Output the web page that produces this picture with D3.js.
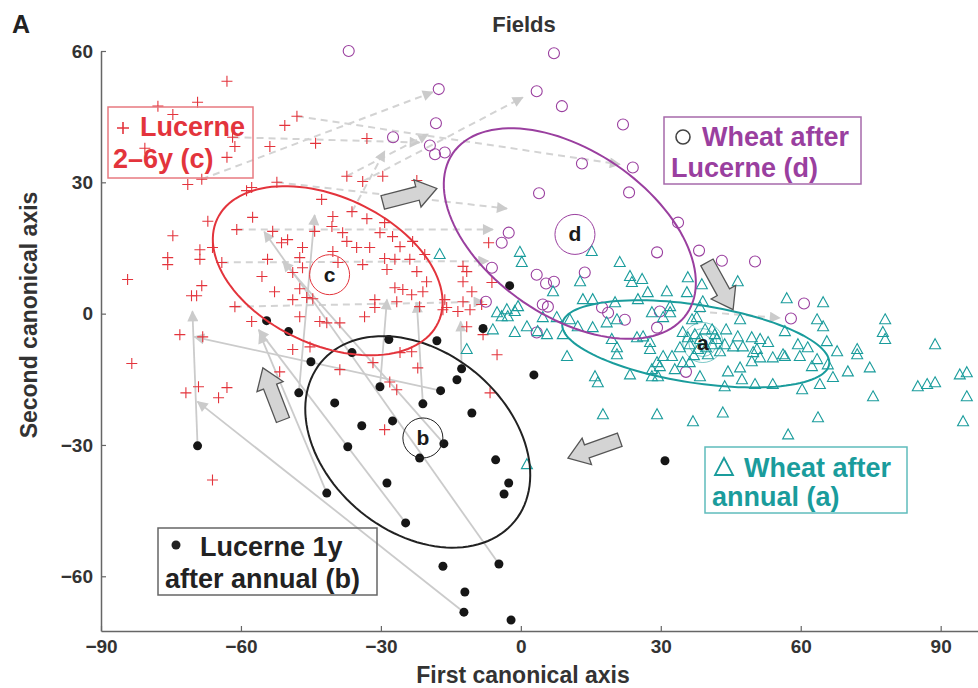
<!DOCTYPE html>
<html>
<head>
<meta charset="utf-8">
<script src="https://cdn.jsdelivr.net/npm/d3@7"></script>
<style>
  body { margin: 0; background: #fff; }
  svg { font-family: "Liberation Sans", Arial, sans-serif; }
</style>
</head>
<body>
<svg width="978" height="688"></svg>
<script>
// tick labels
var xTicks = [-90, -60, -30, 0, 30, 60, 90];
var yTicks = [-60, -30, 0, 30, 60];

// Lucerne 2-6y (c) : red plus
var lucerne26 = [
  [-63.0,53.1],[-77.8,47.4],[-69.3,48.3],[-74.6,45.5],[-48.0,45.1],[-50.6,43.0],[-61.8,40.3],[-61.3,38.2],
  [-80.6,37.8],[-63.0,35.7],[-53.8,38.2],[-44.0,38.9],[-33.0,40.0],[-71.4,29.5],[-68.4,30.7],[-37.3,31.4],
  [-33.9,30.2],[-29.6,31.4],[-22.3,30.4],[-58.8,28.1],[-57.7,28.8],[-52.3,30.0],[-42.7,26.1],[-36.2,23.3],
  [-40.3,22.2],[-57.5,22.0],[-67.1,21.1],[-60.9,19.2],[-53.2,18.8],[-44.2,18.8],[-40.5,19.9],[-38.2,18.5],
  [-33.0,21.7],[-29.2,20.8],[-30.2,18.5],[-27.5,17.6],[-51.3,16.2],[-50.0,16.9],[-46.8,15.1],[-37.3,16.5],
  [-35.2,15.1],[-32.4,15.1],[-25.9,15.3],[-23.2,16.5],[-74.6,17.8],[-68.8,14.6],[-66.1,15.1],[-75.7,12.8],
  [-75.7,11.2],[-68.8,12.4],[-64.1,11.7],[-54.3,12.4],[-47.4,12.8],[-40.3,14.2],[-29.2,12.6],[-27.0,12.4],
  [-23.8,12.4],[-20.6,13.5],[-33.9,11.2],[-28.7,10.1],[-22.3,9.6],[-55.5,8.5],[-48.9,9.4],[-46.8,10.5],
  [-39.2,11.7],[-84.3,7.8],[-68.4,6.4],[-70.6,4.1],[-69.5,4.1],[-52.8,5.0],[-47.4,5.7],[-27.0,5.9],
  [-25.3,5.5],[-23.4,4.3],[-20.2,7.3],[-21.0,5.0],[-48.9,3.2],[-45.9,3.7],[-44.6,3.4],[-61.3,1.6],
  [-31.3,3.2],[-31.3,1.4],[-33.5,-0.7],[-43.1,-1.8],[-41.6,-2.1],[-38.8,-2.1],[-47.4,-0.7],[-73.1,-4.8],
  [-68.2,-5.3],[-26.6,2.7],[-15.9,1.4],[-23.4,-8.7],[-48.9,-8.2],[-45.2,-7.6],[-83.4,-11.4],[-71.8,-18.1],
  [-69.1,-16.7],[-64.8,-19.2],[-63.0,-16.9],[-51.7,-13.3],[-57.7,-1.8],[-66.1,-38.0],[-6.9,16.2],[-12.4,10.8],
  [-11.6,9.6],[-12.4,7.3],[-10.5,5.0],[-6.2,7.1],[-16.3,3.2],[-12.4,2.7],[-10.9,0.9],[-13.5,0.5],
  [-8.4,2.1],[-16.7,0.9],[-11.6,-3.0],[-8.1,-4.8],[-5.1,-9.4],[-6.6,-18.1],[-21.7,1.6],[-25.9,-8.9],
  [-31.7,-11.2],[-38.8,-12.8],[-22.1,-12.4],[-28.1,-15.6],[-26.6,-17.4],[-29.2,-26.5]
];

// Wheat after Lucerne (d) : purple circles
var wheatAfterLucerne = [
  [-36.9,60.0],[7.1,59.5],[-17.6,51.3],[3.4,50.8],[8.8,47.4],[-18.2,43.5],[21.9,43.2],[-27.4,40.3],
  [-19.5,38.4],[-18.4,36.4],[-16.3,36.8],[13.1,34.3],[24.0,33.4],[3.9,27.5],[23.2,27.7],[33.7,20.8],
  [-2.6,18.5],[-4.1,16.2],[29.2,14.0],[38.2,14.4],[43.1,12.1],[50.2,11.9],[-6.2,10.5],[3.4,8.9],
  [5.4,6.9],[7.1,7.3],[13.7,9.4],[-7.5,2.7],[4.7,2.1],[5.8,1.6],[17.4,1.4],[18.7,0.2],
  [22.3,-1.4],[3.4,-4.3],[29.8,0.5],[29.2,-3.2],[60.7,2.3],[57.9,-1.1],[35.4,-13.3]
];

// Wheat after annual (a) : teal triangles
var wheatAfterAnnual = [
  [-17.4,13.5],[-0.2,14.0],[0.2,11.7],[15.2,14.2],[21.2,11.7],[35.8,8.2],[23.4,8.5],[23.8,7.1],
  [26.0,7.8],[12.7,7.3],[6.9,5.0],[27.2,4.8],[31.3,5.0],[38.8,6.6],[39.0,2.7],[38.4,1.4],
  [13.3,3.2],[15.4,3.2],[20.2,2.5],[25.1,3.2],[32.0,1.6],[37.7,-0.9],[32.0,0.2],[-5.1,0.2],
  [-4.1,-0.7],[-2.8,-0.7],[-1.3,0.5],[-0.6,1.6],[-3.0,0.9],[-6.0,-3.7],[-1.3,-4.3],[1.3,-3.0],
  [3.6,-4.1],[5.6,-4.8],[9.0,-4.8],[10.5,-1.4],[7.7,-0.9],[4.7,-0.9],[12.2,-3.0],[15.4,-3.2],
  [18.4,-2.1],[20.6,-1.4],[19.5,-5.9],[20.6,-7.8],[20.6,-9.4],[24.9,-5.5],[26.2,-5.3],[27.7,-6.6],
  [27.7,-8.2],[30.5,-9.8],[32.4,-9.8],[29.8,-12.1],[28.1,-12.8],[29.4,-14.4],[33.0,-12.8],[36.2,-11.2],
  [9.9,-9.8],[15.9,-14.4],[16.5,-15.8],[23.4,-14.0],[-11.6,-8.2],[17.6,-23.1],[29.2,-23.1],[36.9,-24.7],
  [46.5,7.3],[57.0,3.4],[64.8,2.5],[63.5,-1.4],[64.8,-3.0],[78.1,-1.4],[77.6,-4.3],[78.1,-5.9],
  [88.8,-7.1],[47.0,-1.4],[56.6,-4.1],[44.0,-3.7],[46.5,-5.3],[49.5,-5.5],[51.3,-5.9],[53.0,-6.6],
  [45.5,-7.6],[47.6,-7.6],[50.6,-8.2],[59.4,-7.1],[61.5,-7.8],[65.6,-6.4],[67.8,-8.7],[72.1,-8.2],
  [72.1,-9.4],[56.2,-9.4],[59.8,-9.8],[49.5,-11.0],[51.3,-10.1],[54.0,-10.1],[63.5,-10.5],[65.8,-11.7],
  [70.1,-13.3],[74.8,-12.4],[62.4,-12.1],[44.4,-13.3],[47.0,-12.4],[47.4,-15.1],[50.2,-16.2],[54.0,-16.2],
  [43.7,-16.7],[60.3,-17.4],[64.1,-16.2],[66.9,-14.6],[75.5,-19.0],[85.1,-16.7],[87.1,-16.2],[88.8,-15.8],
  [94.1,-14.0],[95.6,-13.5],[95.6,-19.0],[43.3,-22.7],[63.7,-23.8],[57.3,-27.7],[94.8,-24.7],[35.6,4.8],
  [28.1,0.2],[30.5,-0.9],[36.7,-1.4],[34.7,-4.3],[42.0,-5.9],[49.8,-8.9],[56.6,-9.8],[38.4,-14.4],
  [34.7,-11.2],[29.2,-11.2],[28.1,-14.4],[1.3,-34.5],[37.3,-4.8],[39.5,-3.7],[41.0,-7.1],[38.0,-8.2],
  [40.1,-9.4],[36.2,-7.1],[41.6,-4.8],[38.4,-5.9],[42.7,-8.7],[35.8,-5.5],[39.7,-7.8],[37.1,-9.6],
  [41.0,-3.7],[34.1,-7.8],[43.7,-7.1]
];

// Lucerne 1y after annual (b) : black dots
var lucerne1y = [
  [-54.5,-1.6],[-49.8,-4.1],[-45.0,-11.0],[-47.6,-18.1],[-69.3,-30.2],[-36.2,-8.9],[-28.3,-5.9],[-18.0,-6.2],
  [-2.4,6.4],[-8.1,-3.4],[-12.7,-12.6],[-13.7,-15.1],[-17.2,-17.6],[-30.2,-16.7],[-21.0,-20.6],[-10.5,-22.7],
  [-39.9,-20.4],[-34.1,-25.6],[-27.5,-24.5],[-37.1,-30.4],[-16.5,-29.7],[-21.7,-33.0],[-5.4,-33.4],[2.8,-14.0],
  [30.9,-33.6],[-41.6,-41.0],[-28.7,-38.7],[-24.7,-47.8],[-2.6,-38.7],[-3.6,-41.2],[-16.7,-57.7],[-4.7,-57.2],
  [-12.0,-63.6],[-12.2,-68.2],[-2.1,-70.0]
];

// group ellipses: centre, major semi-axis vector, minor semi-axis vector (data units)
var ellipseCentres = { a: [37.5,-6.9], b: [-22.1,-29.3], c: [-41.4,9.8], d: [10.5,18.3] };
var ellipseMajor   = { a: [28.6,-4.67], b: [20.8,-18.1], c: [23.7,-11.8], d: [25.1,-18.3] };
var ellipseMinor   = { a: [-1.26,-8.8], b: [-12.2,-16.0], c: [-6.7,-15.3], d: [-10.0,-15.6] };
var groupMeans     = { a: [39.0,-6.6], b: [-21.0,-28.4], c: [-41.0,8.9], d: [11.6,18.1] };

// field trajectories: Lucerne 1y -> Lucerne 2-6y (solid), Lucerne -> wheat (dashed)
var solidArrows = [
  [[-69.3,-30.2],[-70.4,0.5]], [[-12.2,-68.2],[-69.3,-20.1]], [[-17.2,-17.6],[-70.0,-5.3]],
  [[-24.7,-47.8],[-56.2,-3.7]], [[-4.7,-57.2],[-55.0,18.7]], [[-16.5,-29.7],[-51.0,11.9]],
  [[-47.6,-18.1],[-44.2,22.5]], [[-30.2,-16.7],[-28.7,3.2]], [[-21.0,-20.6],[-22.3,2.5]],
  [[-12.7,-12.6],[-12.9,-1.8]], [[-41.6,-41.0],[-56.0,-4.5]]
];
var dashedArrows = [
  [[-68.4,30.7],[-18.9,50.6]], [[-33.9,30.2],[0.4,49.4]], [[-61.8,40.3],[-21.7,39.1]],
  [[-37.3,31.4],[-19.9,41.0]], [[-36.2,23.3],[-29.2,37.1]], [[-48.0,45.1],[21.2,34.1]],
  [[-60.9,19.2],[-6.0,19.2]], [[-64.1,11.7],[-7.0,12.0]], [[-61.3,1.6],[-8.0,2.7]],
  [[-52.3,30.0],[-3.0,24.0]], [[38.0,0.5],[55.5,-1.0]]
];
// big transition arrows: tail, tip
var blockArrows = [
  [[-51.0,-24.3],[-55.3,-12.4]],
  [[-29.6,25.4],[-18.0,28.6]],
  [[39.9,11.7],[45.5,0.9]],
  [[21.2,-28.8],[10.1,-33.0]]
];

var colC = "#e3343c", colD = "#9a3f9f", colA = "#1a9c9c", colB = "#161616";

var svg = d3.select("svg");

var x = d3.scaleLinear().domain([-90, 98]).range([101, 978]);
var y = d3.scaleLinear().domain([-72.5, 60]).range([631, 51]);

// arrowhead marker
var defs = svg.append("defs");
defs.append("marker")
    .attr("id", "head")
    .attr("markerUnits", "userSpaceOnUse")
    .attr("viewBox", "0 0 10 10")
    .attr("refX", 9).attr("refY", 5)
    .attr("markerWidth", 13).attr("markerHeight", 11)
    .attr("orient", "auto")
    .append("path")
    .attr("d", "M0,0L10,5L0,10Z")
    .attr("fill", "#cbcbcb");
defs.append("clipPath").attr("id", "clip")
    .append("rect").attr("x", 101).attr("y", 40).attr("width", 877).attr("height", 591);

// axes
var xAxis = d3.axisBottom(x).tickValues(xTicks).tickSize(-5).tickSizeOuter(0).tickPadding(9)
    .tickFormat(d => d3.format("")(d).replace("-", "\u2212"));
var yAxis = d3.axisLeft(y).tickValues(yTicks).tickSize(-5).tickSizeOuter(0).tickPadding(8)
    .tickFormat(d => d3.format("")(d).replace("-", "\u2212"));

var gx = svg.append("g").attr("transform", "translate(0,631)").call(xAxis);
var gy = svg.append("g").attr("transform", "translate(101,0)").call(yAxis);
[gx, gy].forEach(function(g) {
  g.select(".domain").attr("stroke", "#666").attr("stroke-width", 1.5);
  g.selectAll(".tick line").attr("stroke", "#666").attr("stroke-width", 1.2);
  g.selectAll(".tick text").attr("fill", "#333").attr("font-size", 19).attr("font-weight", "bold")
    .attr("font-family", "Liberation Sans, Arial, sans-serif");
});

var plot = svg.append("g").attr("clip-path", "url(#clip)");

// trajectories
plot.append("g").selectAll("line").data(dashedArrows).join("line")
    .attr("x1", d => x(d[0][0])).attr("y1", d => y(d[0][1]))
    .attr("x2", d => x(d[1][0])).attr("y2", d => y(d[1][1]))
    .attr("stroke", "#d3d3d3").attr("stroke-width", 2).attr("stroke-dasharray", "7,5")
    .attr("marker-end", "url(#head)");
plot.append("g").selectAll("line").data(solidArrows).join("line")
    .attr("x1", d => x(d[0][0])).attr("y1", d => y(d[0][1]))
    .attr("x2", d => x(d[1][0])).attr("y2", d => y(d[1][1]))
    .attr("stroke", "#cbcbcb").attr("stroke-width", 1.8)
    .attr("marker-end", "url(#head)");

// points
plot.append("g").selectAll("path").data(lucerne26).join("path")
    .attr("transform", d => "translate(" + x(d[0]) + "," + y(d[1]) + ")")
    .attr("d", "M-5.5,0H5.5M0,-5.5V5.5")
    .attr("stroke", colC).attr("stroke-width", 1.1).attr("fill", "none");
plot.append("g").selectAll("circle").data(wheatAfterLucerne).join("circle")
    .attr("cx", d => x(d[0])).attr("cy", d => y(d[1])).attr("r", 5.5)
    .attr("stroke", colD).attr("stroke-width", 1.1).attr("fill", "none");
plot.append("g").selectAll("path").data(wheatAfterAnnual).join("path")
    .attr("transform", d => "translate(" + x(d[0]) + "," + y(d[1]) + ")")
    .attr("d", "M0,-6L5.5,4L-5.5,4Z")
    .attr("stroke", colA).attr("stroke-width", 1.1).attr("fill", "none");
plot.append("g").selectAll("circle").data(lucerne1y).join("circle")
    .attr("cx", d => x(d[0])).attr("cy", d => y(d[1])).attr("r", 4.5)
    .attr("fill", colB);

// ellipses
var ellCols = { a: colA, b: "#222", c: colC, d: colD };
var ts = d3.range(0, 2 * Math.PI + 0.01, Math.PI / 60);
var eLine = d3.line().x(d => x(d[0])).y(d => y(d[1]));
Object.keys(ellipseCentres).forEach(function(k) {
  var c = ellipseCentres[k], u = ellipseMajor[k], v = ellipseMinor[k];
  var pts = ts.map(t => [c[0] + Math.cos(t) * u[0] + Math.sin(t) * v[0],
                         c[1] + Math.cos(t) * u[1] + Math.sin(t) * v[1]]);
  plot.append("path").datum(pts).attr("d", eLine)
      .attr("fill", "none").attr("stroke", ellCols[k]).attr("stroke-width", 2);
});

// group means
Object.keys(groupMeans).forEach(function(k) {
  var m = groupMeans[k];
  if (k === "a") {
    [8, 14, 20].forEach(function(r) {
      plot.append("circle").attr("cx", x(m[0])).attr("cy", y(m[1])).attr("r", r)
          .attr("fill", "none").attr("stroke", colA).attr("stroke-width", 0.8).attr("opacity", 0.7);
    });
  } else {
    plot.append("circle").attr("cx", x(m[0])).attr("cy", y(m[1])).attr("r", 20)
        .attr("fill", "none").attr("stroke", ellCols[k]).attr("stroke-width", 1);
  }
  plot.append("text").attr("x", x(m[0])).attr("y", y(m[1]) + 7)
      .attr("text-anchor", "middle").attr("font-size", 21).attr("font-weight", "bold")
      .attr("fill", "#1a1a1a").text(k);
});

// block arrows
blockArrows.forEach(function(a) {
  var x0 = x(a[0][0]), y0 = y(a[0][1]), x1 = x(a[1][0]), y1 = y(a[1][1]);
  var L = Math.hypot(x1 - x0, y1 - y0), ux = (x1 - x0) / L, uy = (y1 - y0) / L;
  var nx = -uy, ny = ux, hl = 20, sw = 7, hw = 14;
  var bx = x0 + ux * (L - hl), by = y0 + uy * (L - hl);
  var p = [[x0 + nx * sw, y0 + ny * sw], [bx + nx * sw, by + ny * sw], [bx + nx * hw, by + ny * hw],
           [x1, y1], [bx - nx * hw, by - ny * hw], [bx - nx * sw, by - ny * sw], [x0 - nx * sw, y0 - ny * sw]];
  svg.append("path").attr("d", "M" + p.join("L") + "Z")
     .attr("fill", "#d4d4d4").attr("stroke", "#555").attr("stroke-width", 1.3)
     .attr("stroke-linejoin", "miter");
});

// legends
function legend(bx, by, bw, bh, col, stroke, lines, marker) {
  var g = svg.append("g");
  g.append("rect").attr("x", bx).attr("y", by).attr("width", bw).attr("height", bh)
   .attr("fill", "none").attr("stroke", stroke).attr("stroke-width", 1.5);
  lines.forEach(function(l) {
    g.append("text").attr("x", l[0]).attr("y", l[1]).attr("font-size", 27)
     .attr("font-weight", "bold").attr("fill", col).text(l[2]);
  });
  marker(g);
}
legend(108, 107, 145, 71, colC, "#e87a80",
  [[140, 136, "Lucerne"], [113, 168, "2\u20136y (c)"]],
  g => g.append("path").attr("d", "M117,128H129M123,122V134").attr("stroke", colC).attr("stroke-width", 1.6));
legend(664, 117, 197, 67, colD, "#a66aab",
  [[702, 146, "Wheat after"], [671, 177, "Lucerne (d)"]],
  g => g.append("circle").attr("cx", 683).attr("cy", 137).attr("r", 7).attr("fill", "none")
        .attr("stroke", "#444").attr("stroke-width", 1.6));
legend(705, 447, 202, 66, colA, "#5fbcbc",
  [[744, 477, "Wheat after"], [712, 506, "annual (a)"]],
  g => g.append("path").attr("d", "M724,458L733,475L715,475Z").attr("fill", "none")
        .attr("stroke", colA).attr("stroke-width", 1.8));
legend(158, 528, 219, 67, "#222", "#666",
  [[200, 556, "Lucerne 1y"], [165, 588, "after annual (b)"]],
  g => g.append("circle").attr("cx", 176).attr("cy", 545).attr("r", 4.5).attr("fill", "#222"));

// titles
svg.append("text").attr("x", 12).attr("y", 33).attr("font-size", 25).attr("font-weight", "bold")
   .attr("fill", "#222").text("A");
svg.append("text").attr("x", 524).attr("y", 32).attr("text-anchor", "middle").attr("font-size", 22)
   .attr("font-weight", "bold").attr("fill", "#333").text("Fields");
svg.append("text").attr("x", 523).attr("y", 683).attr("text-anchor", "middle").attr("font-size", 23)
   .attr("font-weight", "bold").attr("fill", "#333").text("First canonical axis");
svg.append("text").attr("transform", "translate(37,315) rotate(-90)").attr("text-anchor", "middle")
   .attr("font-size", 23).attr("font-weight", "bold").attr("fill", "#333").text("Second canonical axis");
</script>
</body>
</html>
